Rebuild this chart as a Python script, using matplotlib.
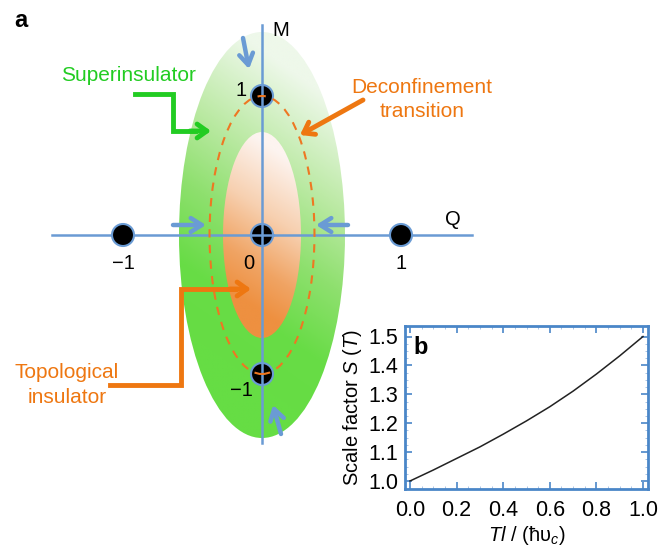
import matplotlib
matplotlib.use('Agg')
import matplotlib.pyplot as plt
import matplotlib.patches as patches
from matplotlib.colors import LinearSegmentedColormap
import numpy as np

plt.rcParams['font.family'] = ['Liberation Sans', 'DejaVu Sans']
plt.rcParams['mathtext.fontset'] = 'custom'
plt.rcParams['mathtext.rm'] = 'Liberation Sans'
plt.rcParams['mathtext.it'] = 'Liberation Sans:italic'

# ---- data ----
# panel a: lattice points (Q, M)
point_q = [-1, 0, 1, 0, 0]
point_m = [0, 0, 0, 1, -1]
q_ticks = [-1, 0, 1]
q_tick_labels = ['\u22121', '0', '1']
m_ticks = [1, -1]
m_tick_labels = ['1', '\u22121']

# panel b: scale factor curve
t_vals = [0.0, 0.1, 0.2, 0.3, 0.4, 0.5, 0.6, 0.7, 0.8, 0.9, 1.0]
s_vals = [1.0, 1.038, 1.078, 1.118, 1.162, 1.208, 1.257, 1.311, 1.37, 1.433, 1.5]
b_xticks = [0.0, 0.2, 0.4, 0.6, 0.8, 1.0]
b_yticks = [1.0, 1.1, 1.2, 1.3, 1.4, 1.5]

BLUE = '#6a9bd4'
FRAME = '#4a86c8'
GREEN = '#22cc22'
ORANGE = '#ee7711'

W, H = 672, 549
fig = plt.figure(figsize=(W / 100, H / 100), dpi=100)

# panel a lives in a full-figure axes; 1 unit = 139 px, origin at (262, 235) px
UNIT = 139.0
OX, OY = 262.0, 235.0
ax = fig.add_axes([0, 0, 1, 1])
ax.set_xlim(-OX / UNIT, (W - OX) / UNIT)
ax.set_ylim((OY - H) / UNIT, OY / UNIT)
ax.axis('off')


def px(x, y):
    return ((x - OX) / UNIT, (OY - y) / UNIT)


def gradient_ellipse(width, height, cmap, tilt, z):
    ell = patches.Ellipse((0, 0), width, height, facecolor='none', edgecolor='none')
    ax.add_patch(ell)
    n = 300
    xx, yy = np.meshgrid(np.linspace(0, 1, n), np.linspace(0, 1, n))
    p = np.clip(1.2 * yy + tilt * (0.5 - xx) - 0.05, 0, 1)
    im = ax.imshow(p, cmap=cmap, vmin=0, vmax=1, origin='upper',
                   extent=(-width / 2, width / 2, -height / 2, height / 2),
                   interpolation='bilinear', zorder=z)
    im.set_clip_path(ell)


green_cmap = LinearSegmentedColormap.from_list(
    'g', [(0, '#eef8ea'), (0.3, '#bdeaa6'), (0.55, '#8fe06f'), (0.8, '#68dc46'), (1.0, '#66dd44')])
orange_cmap = LinearSegmentedColormap.from_list(
    'o', [(0, '#fdf4f0'), (0.4, '#f7d0b0'), (0.75, '#f0a464'), (1.0, '#ee9040')])

gradient_ellipse(166 / UNIT, 406 / UNIT, green_cmap, 0.35, 1)
gradient_ellipse(78 / UNIT, 206 / UNIT, orange_cmap, 0.3, 2)

# axes lines
ax.plot([px(52, 0)[0], px(472, 0)[0]], [0, 0], color=BLUE, lw=1.8, zorder=3)
ax.plot([0, 0], [px(0, 25)[1], px(0, 443)[1]], color=BLUE, lw=1.8, zorder=5)

# lattice points
for q, m in zip(point_q, point_m):
    ax.add_patch(patches.Circle((q, m), 11 / UNIT, facecolor='black',
                                edgecolor=BLUE, lw=1.5, zorder=4))
ax.plot([-11 / UNIT, 11 / UNIT], [0, 0], color=BLUE, lw=1.8, zorder=5)

# deconfinement transition (dashed)
ax.add_patch(patches.Ellipse((0, 0), 0.755, 2.0, facecolor='none', edgecolor='#ee7722',
                             lw=1.5, linestyle=(0, (4, 3.5)), zorder=6))

# axis tick labels
for q, lab in zip(q_ticks, q_tick_labels):
    x = q - 13 / UNIT if q == 0 else q
    ax.text(x, -34 / UNIT, lab, ha='center', va='baseline', fontsize=14.5, zorder=7)
for m, lab in zip(m_ticks, m_tick_labels):
    y = m if m > 0 else m - 22 / UNIT
    ax.text(-21 / UNIT, y, lab, ha='center', va='baseline', fontsize=14.5, zorder=7)
ax.text(*px(281, 36), 'M', ha='center', va='baseline', fontsize=14.5)
ax.text(*px(453, 225), 'Q', ha='center', va='baseline', fontsize=14.5)
ax.text(*px(21, 27), 'a', ha='center', va='baseline', fontsize=17, fontweight='bold')

# blue flow arrows
blue_arrows = [((243, 38), (249, 69)), ((281, 434), (273, 405)),
               ((173, 225), (206, 225)), ((348, 225), (316, 225))]
for (x0, y0), (x1, y1) in blue_arrows:
    ax.annotate('', xy=px(x1, y1), xytext=px(x0, y0), zorder=8,
                arrowprops=dict(arrowstyle='->,head_length=0.8,head_width=0.5',
                                color=BLUE, lw=3.2, shrinkA=0, shrinkB=0))

# superinsulator label + elbow arrow
ax.text(*px(128, 81), 'Superinsulator', color=GREEN, ha='center', va='baseline', fontsize=15)
gx, gy = zip(px(135, 94), px(173, 94), px(173, 131), px(195, 131))
ax.plot(gx, gy, color=GREEN, lw=3.5, solid_joinstyle='miter', zorder=8)
ax.annotate('', xy=px(211, 131), xytext=px(190, 131), zorder=8,
            arrowprops=dict(arrowstyle='->,head_length=0.7,head_width=0.5',
                            color=GREEN, lw=3.5, shrinkA=0, shrinkB=0))

# deconfinement label + arrow
ax.text(*px(422, 93), 'Deconfinement', color=ORANGE, ha='center', va='baseline', fontsize=15)
ax.text(*px(422, 117), 'transition', color=ORANGE, ha='center', va='baseline', fontsize=15)
ax.annotate('', xy=px(300, 135), xytext=px(363, 100), zorder=8,
            arrowprops=dict(arrowstyle='->,head_length=0.7,head_width=0.5',
                            color=ORANGE, lw=3.5, shrinkA=0, shrinkB=0))

# topological insulator label + elbow arrow
ax.text(*px(67, 378), 'Topological', color=ORANGE, ha='center', va='baseline', fontsize=15)
ax.text(*px(67, 403), 'insulator', color=ORANGE, ha='center', va='baseline', fontsize=15)
ox_, oy_ = zip(px(110, 385), px(181, 385), px(181, 289), px(235, 289))
ax.plot(ox_, oy_, color=ORANGE, lw=3.5, solid_joinstyle='miter', zorder=8)
ax.annotate('', xy=px(251, 289), xytext=px(230, 289), zorder=8,
            arrowprops=dict(arrowstyle='->,head_length=0.7,head_width=0.5',
                            color=ORANGE, lw=3.5, shrinkA=0, shrinkB=0))

# ---- panel b ----
L, R, T, B = 405, 648, 326, 489
axb = fig.add_axes([L / W, (H - B) / H, (R - L) / W, (B - T) / H])
axb.plot(t_vals, s_vals, color='#222222', lw=1.1)
axb.set_xlim(-5 / 233, 1 + 5 / 233)
axb.set_ylim(1.0 - 8 / 289, 1.5 + 10.5 / 289)
axb.set_xticks(b_xticks)
axb.set_xticklabels([f'{v:.1f}' for v in b_xticks])
axb.set_yticks(b_yticks)
axb.set_yticklabels([f'{v:.1f}' for v in b_yticks])
axb.set_xticks(np.arange(0, 1.001, 0.05), minor=True)
axb.set_yticks(np.arange(1.0, 1.501, 0.025), minor=True)
axb.tick_params(which='both', direction='in', top=True, right=True, color=FRAME,
                labelsize=15.5)
axb.tick_params(axis='x', which='both', pad=8)
axb.tick_params(axis='y', which='both', pad=5)
axb.tick_params(which='major', length=5, width=1.2)
axb.tick_params(which='minor', length=2, width=0.6, color='#9dbbe0')
for sp in axb.spines.values():
    sp.set_color(FRAME)
    sp.set_linewidth(2)
axb.set_ylabel('Scale factor $S$ ($T$)', fontsize=14.5, labelpad=3)
axb.set_xlabel('$Tl$ / (\u0127\u03c5$_c$)', fontsize=14.5, labelpad=2)
axb.text(0.035, 0.83, 'b', transform=axb.transAxes, fontsize=17, fontweight='bold')

fig.savefig('out.png', dpi=100)
